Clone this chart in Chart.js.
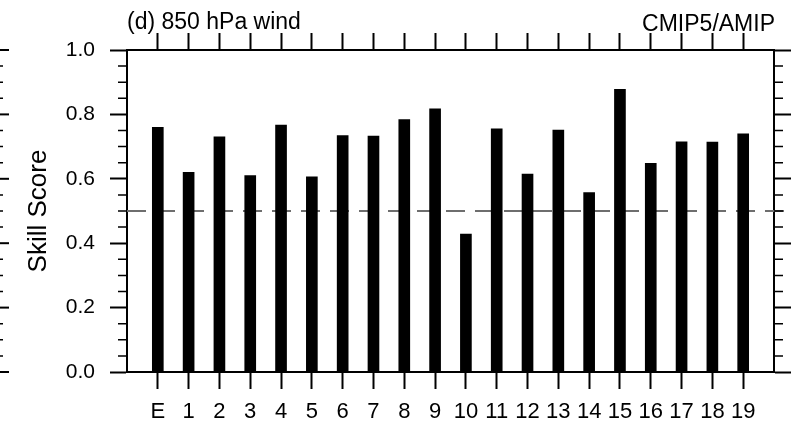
<!DOCTYPE html>
<html>
<head>
<meta charset="utf-8">
<title>850 hPa wind skill</title>
<script src="https://cdn.jsdelivr.net/npm/chart.js@4.4.1/dist/chart.umd.min.js"></script>
<style>
html,body{margin:0;padding:0;background:#fff;}
canvas{display:block;}
</style>
</head>
<body>
<canvas id="skillChart" width="791" height="426"></canvas>
<script>
// models: E = ensemble mean, then the individual CMIP5/AMIP models
var models = ['E','1','2','3','4','5','6','7','8','9','10','11','12','13','14','15','16','17','18','19'];
var skill  = [0.76,0.62,0.73,0.61,0.767,0.606,0.734,0.733,0.784,0.817,0.428,0.755,0.615,0.751,0.557,0.878,0.648,0.715,0.714,0.74];
var refLine = 0.5;
var panelTitle = '(d) 850 hPa wind';
var panelRight = 'CMIP5/AMIP';
var yTitle = 'Skill Score';

var FONT = '"Liberation Sans", Arial, Helvetica, sans-serif';

// one empty slot on each side so the frame sits a full step away from E and 19
var labels = [''].concat(models).concat(['']);
var values = [null].concat(skill).concat([null]);

function isMajor(v){
    return Math.abs(v*5 - Math.round(v*5)) < 1e-6;
}
function xTickColor(ctx){
    if(ctx.index==0 || ctx.index==labels.length-1) return 'rgba(0,0,0,0)';
    return '#000';
}
function yTickColor(ctx){
    return isMajor(ctx.tick.value) ? '#000' : 'rgba(0,0,0,0)';
}

// short minor ticks, reference line, side texts
var extras = {
    id:'extras',
    beforeDatasetsDraw: function(chart){
        var c = chart.ctx, a = chart.chartArea;
        var y = chart.scales.y.getPixelForValue(refLine);
        c.save();
        c.strokeStyle = '#6e6e6e';
        c.lineWidth = 2.2;
        c.setLineDash([19,10]);
        c.beginPath();
        c.moveTo(a.left, y);
        c.lineTo(chart.width, y);
        c.stroke();
        c.restore();
    },
    afterDraw: function(chart){
        var c = chart.ctx, a = chart.chartArea;
        var ys = chart.scales.y;
        c.save();
        c.strokeStyle = '#000';
        c.lineWidth = 1.5;
        ys.ticks.forEach(function(t){
            var p = ys.getPixelForValue(t.value);
            c.beginPath();
            if(!isMajor(t.value)){
                c.moveTo(a.left - 9, p); c.lineTo(a.left, p);
                c.moveTo(a.right, p); c.lineTo(a.right + 9, p);
                // neighbour panel's right axis, cut by the picture edge
                c.moveTo(0, p); c.lineTo(3, p);
            } else {
                c.lineWidth = 2;
                c.moveTo(0, p); c.lineTo(9, p);
            }
            c.stroke();
            c.lineWidth = 1.5;
        });
        c.fillStyle = '#000';
        c.font = '23px ' + FONT;
        c.textBaseline = 'alphabetic';
        c.textAlign = 'left';
        c.fillText(panelTitle, a.left, 29);
        c.textAlign = 'right';
        c.fillText(panelRight, a.right + 1, 31);
        c.restore();
    }
};

var ctx = document.getElementById('skillChart').getContext('2d');
window.skillBar = new Chart(ctx, {
    type: 'bar',
    data: {
        labels: labels,
        datasets: [{
            label: 'Skill Score',
            data: values,
            backgroundColor: '#000',
            borderWidth: 0,
            barThickness: 11
        }]
    },
    options: {
        responsive: false,
        animation: false,
        layout: { padding: 0 },
        plugins: {
            legend: { display: false },
            tooltip: { enabled: false },
            title: { display: false }
        },
        scales: {
            x: {
                type: 'category',
                position: 'bottom',
                offset: false,
                grid: { offset: false, drawOnChartArea: false, tickLength: 17, tickWidth: 2, tickColor: xTickColor },
                border: { color: '#000', width: 2 },
                ticks: { autoSkip: false, maxRotation: 0, padding: 10, color: '#000', font: { family: FONT, size: 22 } },
                afterFit: function(s){ s.height = 54; }
            },
            x2: {
                type: 'category',
                position: 'top',
                offset: false,
                grid: { offset: false, drawOnChartArea: false, tickLength: 17, tickWidth: 2, tickColor: xTickColor },
                border: { color: '#000', width: 2 },
                ticks: { display: false, autoSkip: false },
                afterFit: function(s){ s.height = 50; }
            },
            y: {
                position: 'left',
                min: 0,
                max: 1,
                grid: { drawOnChartArea: false, tickLength: 17, tickWidth: 2, tickColor: yTickColor },
                border: { color: '#000', width: 2 },
                ticks: {
                    stepSize: 0.05,
                    autoSkip: false,
                    padding: 15,
                    color: '#000',
                    font: { family: FONT, size: 21 },
                    callback: function(v){ return isMajor(v) ? v.toFixed(1) : ''; }
                },
                title: { display: true, text: yTitle, color: '#000', font: { family: FONT, size: 26 }, padding: { top: 23, bottom: 0 } },
                afterFit: function(s){ s.width = 127; }
            },
            y2: {
                position: 'right',
                min: 0,
                max: 1,
                grid: { drawOnChartArea: false, tickLength: 17, tickWidth: 2, tickColor: yTickColor },
                border: { color: '#000', width: 2 },
                ticks: { display: false, stepSize: 0.05, autoSkip: false },
                afterFit: function(s){ s.width = 17; }
            }
        }
    },
    plugins: [extras]
});
</script>
</body>
</html>
